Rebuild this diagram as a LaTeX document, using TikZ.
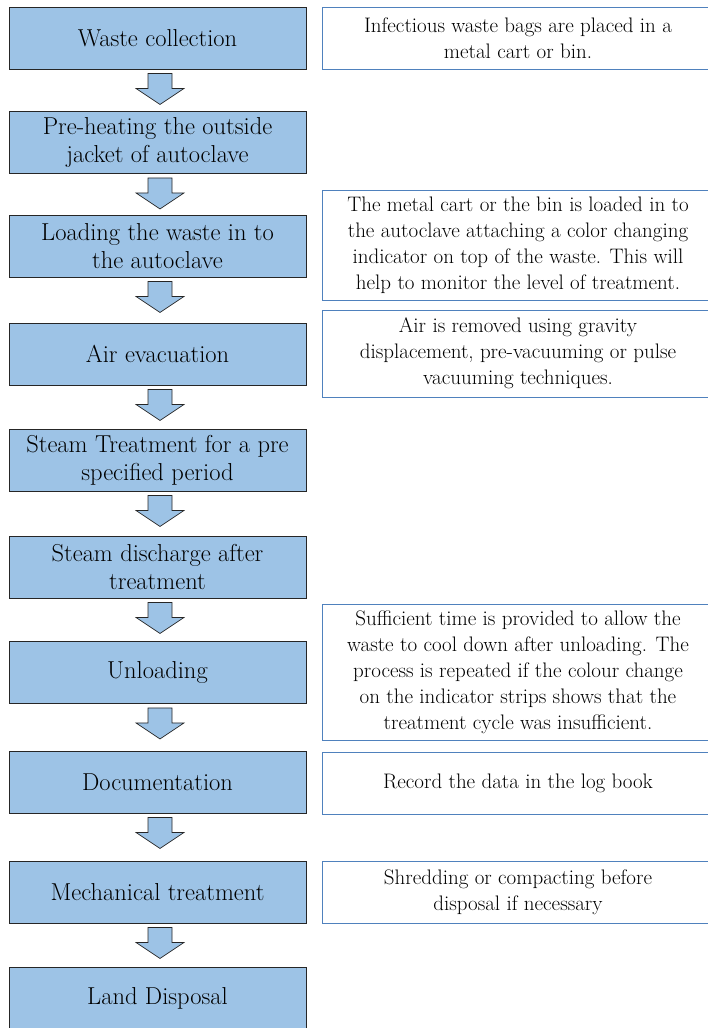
\documentclass[tikz,border=0pt]{standalone}
\usepackage{fontspec}

\definecolor{stagefill}{HTML}{9DC3E6}
\definecolor{noteline}{HTML}{4F81BD}

\tikzset{
    stage/.style={draw=black!85,fill=stagefill,line width=.9pt,inner sep=0pt,
        minimum width=297,minimum height=62,align=center,
        font=\fontsize{24.5}{28}\selectfont},
    note/.style={draw=noteline,fill=white,line width=1pt,inner sep=0pt,
        minimum width=392,align=center,
        font=\fontsize{21}{26}\selectfont},
    blockarrow/.style={draw=black!85,fill=stagefill,line width=.7pt,line join=miter}
}

\begin{document}
\begin{tikzpicture}[x=1pt,y=-1pt]
    \useasboundingbox (0,0) rectangle (708,1028);
    % steps ==================================================
    \node[stage]  (S1)   at (157.5,38)    {Waste collection};
    \node[stage]  (S2)   at (157.5,142.5) {Pre-heating the outside\\jacket of autoclave};
    \node[stage]  (S3)   at (157.5,246)   {Loading the waste in to\\the autoclave};
    \node[stage]  (S4)   at (157.5,354)   {Air evacuation};
    \node[stage]  (S5)   at (157.5,460)   {Steam Treatment for a pre\\specified period};
    \node[stage]  (S6)   at (157.5,567)   {Steam discharge after\\treatment};
    \node[stage]  (S7)   at (157.5,672.5) {Unloading};
    \node[stage]  (S8)   at (157.5,782)   {Documentation};
    \node[stage]  (S9)   at (157.5,892)   {Mechanical treatment};
    \node[stage]  (S10)  at (157.5,998.5) {Land Disposal};
    % notes ==================================================
    \node[note,minimum height=62]  (N1) at (518,38)    {Infectious waste bags are placed in a\\metal cart or bin.};
    \node[note,minimum height=110] (N3) at (518,245)   {The metal cart or the bin is loaded in to\\the autoclave attaching a color changing\\indicator on top of the waste. This will\\help to monitor the level of treatment.};
    \node[note,minimum height=87]  (N4) at (518,353.5) {Air is removed using gravity\\displacement, pre-vacuuming or pulse\\vacuuming techniques.};
    \node[note,minimum height=136] (N7) at (518,672)   {Sufficient time is provided to allow the\\waste to cool down after unloading. The\\process is repeated if the colour change\\on the indicator strips shows that the\\treatment cycle was insufficient.};
    \node[note,minimum height=62]  (N8) at (518,783)   {Record the data in the log book};
    \node[note,minimum height=62]  (N9) at (518,892)   {Shredding or compacting before\\disposal if necessary};
    % block arrows ===========================================
    \foreach \a in {S1,S2,S3,S4,S5,S6,S7,S8,S9}
        \draw[blockarrow] ([shift={(-9.5,4)}]\a.south) -- ++(24,0) -- ++(0,15) -- ++(12,0)
            -- ++(-24,16) -- ++(-24,-16) -- ++(12,0) -- cycle;
\end{tikzpicture}
\end{document}
